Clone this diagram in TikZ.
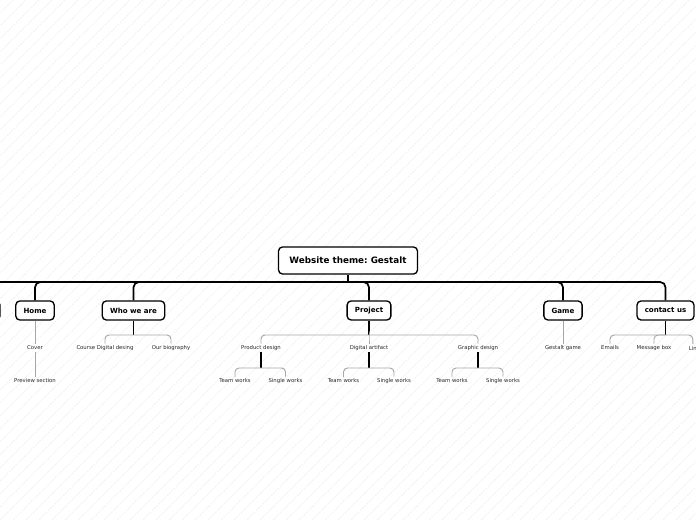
\documentclass[tikz,border=0pt]{standalone}
\usepackage{fontspec}
\setmainfont{DejaVu Sans}
\frenchspacing
\begin{document}
\begin{tikzpicture}[x=0.75pt, y=-0.75pt,
		topic/.style={draw, line width=1pt, rounded corners=3pt, fill=white, font=\bfseries\fontsize{5.3}{6}\selectfont, inner xsep=5.8pt, minimum height=14.25pt},
		central/.style={topic, font=\bfseries\fontsize{6.6}{8}\selectfont, inner xsep=8.2pt, minimum height=20.25pt},
		sub/.style={font=\fontsize{4}{5}\selectfont, text=black!85, inner sep=1.2pt},
		trunk/.style={line width=1.3pt, rounded corners=4pt},
		stem/.style={line width=0.8pt},
		twig/.style={line width=0.7pt, gray!70, rounded corners=3pt}]
			\useasboundingbox (0,0) rectangle (696,520);
			\clip (0,0) rectangle (696,520);
			\foreach \k in {0,13,...,1216}
				\draw[black!8, line width=0.4pt, dash pattern=on 1.5pt off 0.8pt] (\k,0) -- (\k-520,520);

			\node[central] (root) at (348,260.5) {Website theme: Gestalt};
			\node[topic, minimum width=30pt] (hidden) at (-20,310.5) {};
			\node[topic] (home) at (35,310.5) {Home};
			\node[topic] (who) at (133.5,310.5) {Who we are};
			\node[topic] (project) at (369,310.5) {Project};
			\node[topic] (game) at (563,310.5) {Game};
			\node[topic] (contact) at (665.5,310.5) {contact us};

			\node[sub] (cover) at (35,348) {Cover};
			\node[sub] (preview) at (35,381) {Preview section};
			\node[sub] (course) at (105,348) {Course Digital desing};
			\node[sub] (bio) at (171,348) {Our biography};
			\node[sub] (prod) at (261,348) {Product design};
			\node[sub] (digi) at (369,348) {Digital artifact};
			\node[sub] (graph) at (478,348) {Graphic design};
			\node[sub] (gestalt) at (563,348) {Gestalt game};
			\node[sub] (emails) at (610,348) {Emails};
			\node[sub] (msgbox) at (654,348) {Message box};
			\node[sub, anchor=west] (lin) at (687,348) {Lin};
			\node[sub] (prodteam) at (235,381) {Team works};
			\node[sub] (prodsingle) at (285.5,381) {Single works};
			\node[sub] (digiteam) at (343.5,381) {Team works};
			\node[sub] (digisingle) at (394,381) {Single works};
			\node[sub] (graphteam) at (452,381) {Team works};
			\node[sub] (graphsingle) at (503,381) {Single works};

			% main branches
			\draw[trunk] (root.south) -- (348,282) coordinate (bus);
			\foreach \t in {hidden,home,who,project,game,contact}
				\draw[trunk] (bus) -| (\t.north);

			% second level
			\draw[twig] (home.south) -- (cover.north);
			\draw[twig] (cover.south) -- (preview.north);
			\draw[twig] (game.south) -- (gestalt.north);
			\draw[stem] (who.south) -- (who.south |- 0,335) coordinate (whoj);
			\foreach \t in {course,bio}
				\draw[twig] (whoj) -| (\t.north);
			\draw[stem] (project.south) -- (project.south |- 0,335) coordinate (projj);
			\foreach \t in {prod,digi,graph}
				\draw[twig] (projj) -| (\t.north);
			\draw[stem] (contact.south) -- (contact.south |- 0,335) coordinate (contj);
			\foreach \t in {emails,msgbox}
				\draw[twig] (contj) -| (\t.north);
			\draw[twig] (contj) -| (lin.north);

			% third level
			\foreach \p in {prod,digi,graph} {
				\draw[stem] (\p.south) -- (\p.south |- 0,368) coordinate (\p j);
				\draw[twig] (\p j) -| (\p team.north);
				\draw[twig] (\p j) -| (\p single.north);
			}
		\end{tikzpicture}
\end{document}
